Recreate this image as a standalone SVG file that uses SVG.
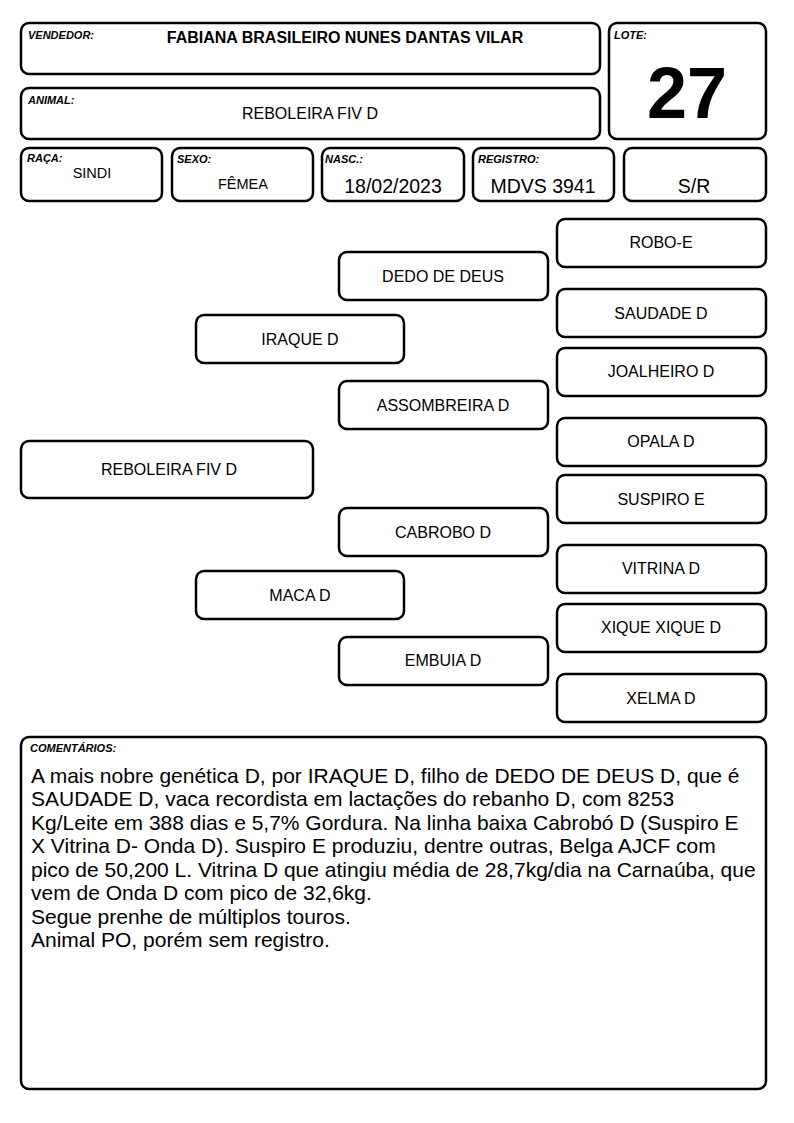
<svg xmlns="http://www.w3.org/2000/svg" width="794" height="1123" viewBox="0 0 794 1123">
<style>
.b{fill:#fff;stroke:#000;stroke-width:2.5}
.lab{font-family:"Liberation Sans",Arial,sans-serif;font-size:11px;font-weight:bold;font-style:italic}
.v{font-family:"Liberation Sans",Arial,sans-serif;font-size:16px;text-anchor:middle}
.vs{font-family:"Liberation Sans",Arial,sans-serif;font-size:14.5px;text-anchor:middle}
.vl{font-family:"Liberation Sans",Arial,sans-serif;font-size:19.5px;text-anchor:middle}
.p{font-family:"Liberation Sans",Arial,sans-serif;font-size:16px;text-anchor:middle}
.c{font-family:"Liberation Sans",Arial,sans-serif;font-size:21px}
</style>
<rect width="794" height="1123" fill="#fff"/>
<g id="vendedor"><rect class="b" x="21" y="23" width="579" height="51" rx="8"/><text class="lab" x="28" y="39">VENDEDOR:</text><text class="v" x="345" y="43" font-weight="bold">FABIANA BRASILEIRO NUNES DANTAS VILAR</text></g>
<g id="animal"><rect class="b" x="21" y="88" width="579" height="51" rx="8"/><text class="lab" x="28" y="104">ANIMAL:</text><text class="v" x="310" y="119">REBOLEIRA FIV D</text></g>
<g id="lote"><rect class="b" x="609" y="23" width="157" height="116" rx="8"/><text class="lab" x="614" y="39">LOTE:</text><text x="687" y="118" font-family="Liberation Sans,Arial,sans-serif" font-size="72" font-weight="bold" text-anchor="middle">27</text></g>
<g id="raca"><rect class="b" x="21" y="148" width="141" height="53" rx="8"/><text class="lab" x="27" y="162">RAÇA:</text><text class="vs" x="92" y="178">SINDI</text></g>
<g id="sexo"><rect class="b" x="172" y="148" width="141" height="53" rx="8"/><text class="lab" x="177" y="163">SEXO:</text><text class="vs" x="243" y="189">FÊMEA</text></g>
<g id="nasc"><rect class="b" x="322" y="148" width="142" height="53" rx="8"/><text class="lab" x="325" y="163">NASC.:</text><text class="vl" x="393" y="193">18/02/2023</text></g>
<g id="registro"><rect class="b" x="473" y="148" width="141" height="53" rx="8"/><text class="lab" x="478" y="163">REGISTRO:</text><text class="vl" x="543" y="193">MDVS 3941</text></g>
<g id="sr"><rect class="b" x="624" y="148" width="142" height="53" rx="8"/><text class="vl" x="694" y="193">S/R</text></g>
<g id="connectors"></g>
<g id="robo-e"><rect class="b" x="557" y="219" width="209" height="48" rx="8"/><text class="p" x="661" y="248">ROBO-E</text></g>
<g id="dedo-de-deus"><rect class="b" x="339" y="252" width="209" height="48" rx="8"/><text class="p" x="443" y="282">DEDO DE DEUS</text></g>
<g id="saudade-d"><rect class="b" x="557" y="289" width="209" height="48" rx="8"/><text class="p" x="661" y="319">SAUDADE D</text></g>
<g id="iraque-d"><rect class="b" x="196" y="315" width="208" height="48" rx="8"/><text class="p" x="300" y="345">IRAQUE D</text></g>
<g id="joalheiro-d"><rect class="b" x="557" y="348" width="209" height="48" rx="8"/><text class="p" x="661" y="377">JOALHEIRO D</text></g>
<g id="assombreira-d"><rect class="b" x="339" y="381" width="209" height="48" rx="8"/><text class="p" x="443" y="411">ASSOMBREIRA D</text></g>
<g id="opala-d"><rect class="b" x="557" y="418" width="209" height="48" rx="8"/><text class="p" x="661" y="447">OPALA D</text></g>
<g id="reboleira-fiv-d"><rect class="b" x="21" y="441" width="292" height="57" rx="8"/><text class="p" x="169" y="475">REBOLEIRA FIV D</text></g>
<g id="suspiro-e"><rect class="b" x="557" y="475" width="209" height="48" rx="8"/><text class="p" x="661" y="505">SUSPIRO E</text></g>
<g id="cabrobo-d"><rect class="b" x="339" y="508" width="209" height="48" rx="8"/><text class="p" x="443" y="538">CABROBO D</text></g>
<g id="vitrina-d"><rect class="b" x="557" y="545" width="209" height="48" rx="8"/><text class="p" x="661" y="574">VITRINA D</text></g>
<g id="maca-d"><rect class="b" x="196" y="571" width="208" height="48" rx="8"/><text class="p" x="300" y="601">MACA D</text></g>
<g id="xique-xique-d"><rect class="b" x="557" y="604" width="209" height="48" rx="8"/><text class="p" x="661" y="633">XIQUE XIQUE D</text></g>
<g id="embuia-d"><rect class="b" x="339" y="637" width="209" height="48" rx="8"/><text class="p" x="443" y="666">EMBUIA D</text></g>
<g id="xelma-d"><rect class="b" x="557" y="674" width="209" height="48" rx="8"/><text class="p" x="661" y="704">XELMA D</text></g>
<g id="comentarios"><rect class="b" x="21" y="737" width="745" height="352" rx="8"/><text class="lab" x="30" y="752">COMENTÁRIOS:</text>
<text class="c" x="31" y="783">A mais nobre genética D, por IRAQUE D, filho de DEDO DE DEUS D, que é</text>
<text class="c" x="31" y="806">SAUDADE D, vaca recordista em lactações do rebanho D, com 8253</text>
<text class="c" x="31" y="830">Kg/Leite em 388 dias e 5,7% Gordura. Na linha baixa Cabrobó D (Suspiro E</text>
<text class="c" x="31" y="853">X Vitrina D- Onda D). Suspiro E produziu, dentre outras, Belga AJCF com</text>
<text class="c" x="31" y="877">pico de 50,200 L. Vitrina D que atingiu média de 28,7kg/dia na Carnaúba, que</text>
<text class="c" x="31" y="900">vem de Onda D com pico de 32,6kg.</text>
<text class="c" x="31" y="924">Segue prenhe de múltiplos touros.</text>
<text class="c" x="31" y="947">Animal PO, porém sem registro.</text>
</g>
</svg>
